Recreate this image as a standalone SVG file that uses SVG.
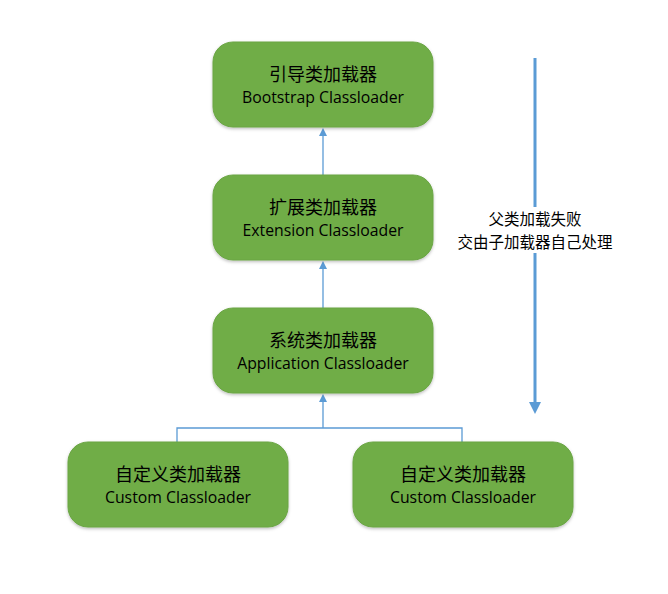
<svg xmlns="http://www.w3.org/2000/svg" width="668" height="594" viewBox="0 0 668 594">
<style>
.box{fill:#70AD47;stroke:#6aa544;stroke-width:1}
.cn{font-family:"Noto Sans CJK SC","Microsoft YaHei",sans-serif;font-size:18px;fill:#000;text-anchor:middle}
.en{font-family:"Open Sans","Liberation Sans",sans-serif;font-size:15.8px;fill:#000;text-anchor:middle}
.lbl{font-family:"Noto Sans CJK SC",sans-serif;font-size:15.5px;fill:#000;text-anchor:middle}
.conn{fill:none;stroke:#5B9BD5;stroke-width:1.3}
.head{fill:#5B9BD5}
</style>
<defs>
<filter id="sh" x="-10%" y="-10%" width="120%" height="130%">
<feDropShadow dx="0" dy="1.5" stdDeviation="1.5" flood-color="#000" flood-opacity="0.25"/>
</filter>
</defs>
<rect width="668" height="594" fill="#fff"/>
<g id="connectors">
<path class="conn" d="M323,175 V135"/>
<path class="head" d="M319,136 L323,128 L327,136 Z"/>
<path class="conn" d="M323,308 V268"/>
<path class="head" d="M319,269 L323,261 L327,269 Z"/>
<path class="conn" d="M177,442 V428 H462 V442 M323,428 V401"/>
<path class="head" d="M319,402 L323,394 L327,402 Z"/>
<path d="M535,58 V207 M535,253 V403" stroke="#5B9BD5" stroke-width="3" fill="none"/>
<path class="head" d="M529,402 L541,402 L535,414 Z"/>
</g>
<g id="bootstrap">
<rect class="box" x="213" y="42" width="220" height="85" rx="20" filter="url(#sh)"/>
<text class="cn" x="323" y="81">引导类加载器</text>
<text class="en" x="323" y="103">Bootstrap Classloader</text>
</g>
<g id="extension">
<rect class="box" x="213" y="175" width="220" height="85" rx="20" filter="url(#sh)"/>
<text class="cn" x="323" y="214">扩展类加载器</text>
<text class="en" x="323" y="236">Extension Classloader</text>
</g>
<g id="application">
<rect class="box" x="213" y="308" width="220" height="85" rx="20" filter="url(#sh)"/>
<text class="cn" x="323" y="347">系统类加载器</text>
<text class="en" x="323" y="369">Application Classloader</text>
</g>
<g id="custom1">
<rect class="box" x="68" y="442" width="220" height="85" rx="20" filter="url(#sh)"/>
<text class="cn" x="178" y="481">自定义类加载器</text>
<text class="en" x="178" y="503">Custom Classloader</text>
</g>
<g id="custom2">
<rect class="box" x="353" y="442" width="220" height="85" rx="20" filter="url(#sh)"/>
<text class="cn" x="463" y="481">自定义类加载器</text>
<text class="en" x="463" y="503">Custom Classloader</text>
</g>
<g id="note">
<text class="lbl" x="535" y="225">父类加载失败</text>
<text class="lbl" x="535" y="248">交由子加载器自己处理</text>
</g>
</svg>
